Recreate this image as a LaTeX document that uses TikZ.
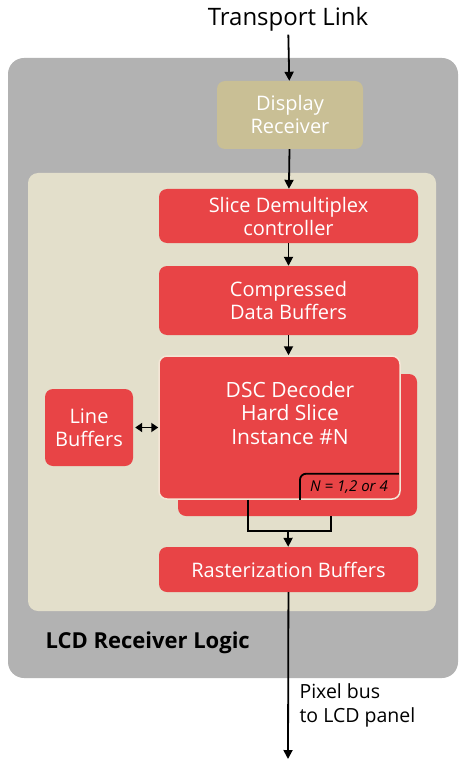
\documentclass[tikz,border=0pt]{standalone}
\usepackage{fontspec}
\setmainfont{Open Sans}
\usetikzlibrary{positioning,arrows.meta}
\definecolor{logicgray}{HTML}{B2B2B2}
\definecolor{panelbeige}{HTML}{E3DFCB}
\definecolor{recvtan}{HTML}{C9BF95}
\definecolor{dscred}{HTML}{E84446}
\definecolor{dscedge}{HTML}{F4E6D6}
\begin{document}
\begin{tikzpicture}[x=1pt,y=-1pt,
  block/.style={fill=dscred,text=white,rounded corners=8pt,align=center,
    font=\fontsize{20}{23}\selectfont,inner sep=0pt},
  link/.style={-{Triangle[length=9pt,width=9pt]},line width=1.8pt},
  wire/.style={line width=1.8pt}]
\useasboundingbox (0,0) rectangle (460,759);
\node[fill=logicgray,rounded corners=16pt,minimum width=450pt,minimum height=620pt] (logic) at (233,368) {};
\node[fill=panelbeige,rounded corners=10pt,minimum width=408pt,minimum height=438pt] (panel) at (232,392) {};
\node[font=\fontsize{24}{28}\selectfont] (transport) at (288,19) {Transport Link};
\node[block,fill=recvtan,minimum width=146pt,minimum height=68pt] (recv) at (290,115) {Display\\Receiver};
\node[block,minimum width=259pt,minimum height=54pt] (demux) at (288.5,216) {Slice Demultiplex\\controller};
\node[block,minimum width=259pt,minimum height=69pt] (cdb) at (288.5,300.5) {Compressed\\Data Buffers};
\node[block,minimum width=239pt,minimum height=142pt] (dscback) at (297.5,445) {};
\node[block,draw=dscedge,line width=1.5pt,minimum width=241pt,minimum height=143pt] (dsc) at (279.5,427.5) {};
\node[block,font=\fontsize{21}{23.5}\selectfont] (dsclabel) at (290,413) {DSC Decoder\\Hard Slice\\Instance \#N};
\node[block,minimum width=88pt,minimum height=77pt] (lbuf) at (89,427.5) {Line\\Buffers};
\node[block,minimum width=259pt,minimum height=45pt] (raster) at (288.5,569.5) {Rasterization Buffers};
\node[font=\fontsize{15}{18}\selectfont\itshape] (ncount) at (349,487) {N = 1,2 or 4};
\node[font=\fontsize{22}{26}\selectfont\bfseries,anchor=west] (logiclabel) at (42,643) {LCD Receiver Logic};
\node[font=\fontsize{19.5}{24}\selectfont,align=left,anchor=west] (pixbus) at (296,705) {Pixel bus\\to LCD panel};
\coordinate (join) at (288,531);
\coordinate (panelout) at (288,759);
\draw[link] (transport) -- (recv);
\draw[link] (recv) -- (demux);
\draw[link] (demux) -- (cdb);
\draw[link] (cdb) -- (cdb |- dsc.north);
\draw[{Triangle[length=7pt,width=9pt]}-{Triangle[length=7pt,width=9pt]},line width=1.8pt] ([xshift=2pt]lbuf.east) -- (dsc.west);
\draw[wire,rounded corners=6pt] ([xshift=20.5pt]dsc.south) |- ([xshift=-2pt,yshift=26pt]dsc.south east);
\draw[wire] ([xshift=-31.5pt]dsc.south) |- (join) -| ([xshift=33.5pt]dscback.south);
\draw[link] (join) -- (raster);
\draw[link] (raster) -- (panelout);
\end{tikzpicture}
\end{document}
